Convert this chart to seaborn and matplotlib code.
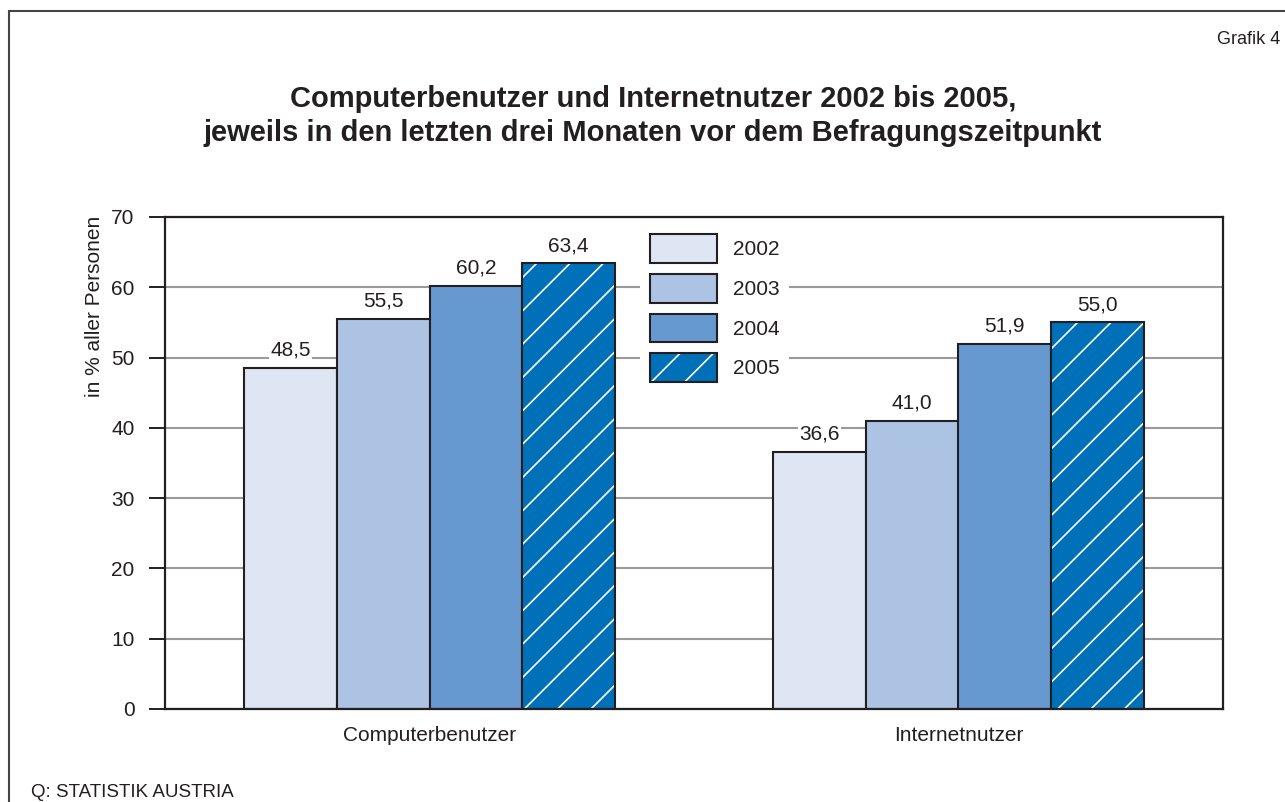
import pandas as pd
import seaborn as sns
import matplotlib.pyplot as plt
from matplotlib.patches import Patch, Rectangle
from matplotlib.colors import to_rgba

groups = ['Computerbenutzer', 'Internetnutzer']
years = ['2002', '2003', '2004', '2005']
values = {
    '2002': [48.5, 36.6],
    '2003': [55.5, 41.0],
    '2004': [60.2, 51.9],
    '2005': [63.4, 55.0],
}
colors = ['#dfe6f3', '#adc3e4', '#6699cf', '#0070b8']
edge = '#231f20'

df = pd.DataFrame([
    {'gruppe': g, 'jahr': y, 'wert': values[y][i]}
    for y in years for i, g in enumerate(groups)
])

sns.set_style("ticks")
plt.rcParams['font.family'] = ['Liberation Sans', 'DejaVu Sans']
plt.rcParams['hatch.linewidth'] = 1.2

fs = 15

fig = plt.figure(figsize=(12.85, 8.02), dpi=100)
ax = fig.add_axes([165/1285, 1 - 709/802, 1058/1285, 492/802])

sns.barplot(data=df, x='gruppe', y='wert', hue='jahr', palette=colors,
            saturation=1, width=0.7, edgecolor=edge, linewidth=1.5,
            legend=False, ax=ax, zorder=2)

# 2005 bars: white hatch lines inside a dark outline
for bar in ax.containers[3]:
    bar.set_hatch('/')
    bar._hatch_color = to_rgba('white')

for cont, y in zip(ax.containers, years):
    labels = [f"{v:.1f}".replace('.', ',') for v in values[y]]
    ax.bar_label(cont, labels=labels, padding=6, fontsize=fs, color=edge,
                 bbox=dict(facecolor='white', edgecolor='none', pad=1))

ax.set_xlim(-0.5, 1.5)
ax.set_ylim(0, 70)
ax.set_yticks(range(0, 71, 10))
ax.yaxis.grid(True, color='#9a9a9a', linewidth=1.5)
ax.set_axisbelow(True)
for s in ax.spines.values():
    s.set_visible(True)
    s.set_color(edge)
    s.set_linewidth(1.6)
ax.tick_params(axis='y', length=11.5, width=1.4, color=edge, pad=10.5,
               labelsize=fs, labelcolor=edge)
ax.tick_params(axis='x', length=0, pad=12, labelsize=fs, labelcolor=edge)
ax.set_xlabel('')
ax.set_ylabel('in % aller Personen', fontsize=fs, color=edge)
ax.yaxis.set_label_coords(-0.0575, 0.819)

handles = []
for y, c in zip(years, colors):
    handles.append(Patch(facecolor=c, edgecolor=edge, linewidth=1.5, label=y))
handles[3].set_hatch('/')
handles[3]._hatch_color = to_rgba('white')
leg = ax.legend(handles=handles, loc='upper left', bbox_to_anchor=(0.449, 0.985),
                fontsize=fs, frameon=True, fancybox=False, framealpha=1,
                borderpad=0.47, borderaxespad=0, handlelength=3.2,
                handleheight=1.74, labelspacing=0.53, handletextpad=0.77)
leg.get_frame().set_edgecolor('none')
leg.get_frame().set_facecolor('white')
for t in leg.get_texts():
    t.set_color(edge)

fig.text(0.508, 0.855, 'Computerbenutzer und Internetnutzer 2002 bis 2005,\n'
         'jeweils in den letzten drei Monaten vor dem Befragungszeitpunkt',
         ha='center', va='center', fontsize=21, fontweight='bold', color=edge,
         linespacing=1.27)
fig.text(0.996, 0.951, 'Grafik 4', ha='right', va='center', fontsize=13, color=edge)
fig.text(31/1285, 0.012, 'Q: STATISTIK AUSTRIA', ha='left', va='center',
         fontsize=13.5, color=edge)

# outer frame, only its left and top edges fall inside the figure
fig.add_artist(Rectangle((9/1285, -0.1), 1.2, 1 - 11/802 + 0.1,
                         transform=fig.transFigure, fill=False,
                         edgecolor='#444444', linewidth=1.5))

fig.savefig('out.png', dpi=100)
